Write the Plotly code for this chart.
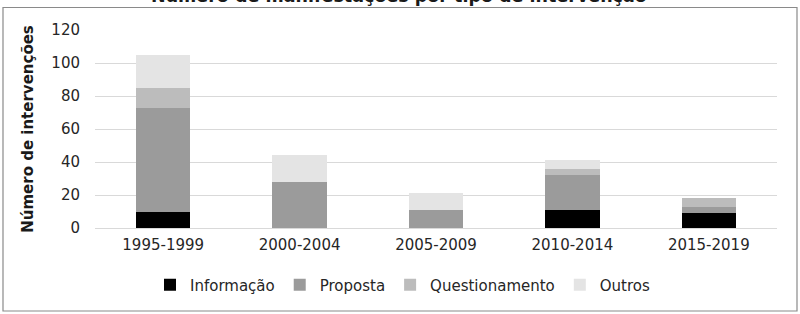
import plotly.graph_objects as go

categories = ["1995-1999", "2000-2004", "2005-2009", "2010-2014", "2015-2019"]
informacao = [10, 0, 0, 11, 9]
proposta = [63, 28, 11, 21, 4]
questionamento = [12, 0, 0, 4, 5]
outros = [20, 16, 10, 5, 0]

series = [
    ("Informação", informacao, "#000000"),
    ("Proposta", proposta, "#9b9b9b"),
    ("Questionamento", questionamento, "#bcbcbc"),
    ("Outros", outros, "#e4e4e4"),
]

W, H = 800, 314
L, R, T, B = 95, 23, 30, 86
pw, ph = W - L - R, H - T - B

def px(x):
    return (x - L) / pw

def py(y):
    return (H - B - y) / ph

font = "DejaVu Sans"
fig = go.Figure()
for name, vals, col in series:
    fig.add_trace(go.Bar(x=categories, y=vals, name=name, marker_color=col,
                         marker_line_width=0))

fig.update_layout(
    width=W, height=H,
    margin=dict(l=L, r=R, t=T, b=B, autoexpand=False),
    barmode="stack", bargap=0.6,
    plot_bgcolor="white", paper_bgcolor="white",
    font=dict(family=font, size=15, color="#262626"),
    showlegend=True,
    legend=dict(orientation="h", x=px(403), xanchor="center",
                y=py(285), yanchor="middle", font=dict(size=15, color="#262626"),
                traceorder="normal", itemwidth=30, tracegroupgap=0),
    xaxis=dict(showgrid=False, showline=False, ticks="", ticklabelstandoff=6,
               tickfont=dict(size=15), tickangle=0, automargin=False),
    yaxis=dict(range=[0, 120], dtick=20, showgrid=True, gridcolor="#d9d9d9",
               gridwidth=1, zeroline=True, zerolinecolor="#d9d9d9", zerolinewidth=1,
               showline=False, ticks="", ticklabelstandoff=14, tickfont=dict(size=15),
               automargin=False,
               title=dict(text="<b>Número de intervenções</b>", font=dict(size=15, color="#1a1a1a"),
                          standoff=14)),
    shapes=[dict(type="rect", xref="paper", yref="paper",
                 x0=px(3), x1=px(797), y0=py(311), y1=py(7.5),
                 line=dict(color="#8a8a8a", width=1.2), layer="below")],
    annotations=[dict(text="<b>Número de manifestações por tipo de intervenção</b>",
                      xref="paper", yref="paper", x=px(399), y=py(8.5),
                      xanchor="center", yanchor="bottom", showarrow=False,
                      font=dict(size=17.5, color="#1a1a1a"))],
)

fig.write_html("out.html", config={"displayModeBar": False},
               post_script="document.body.style.margin='0';document.body.style.padding='0';")
